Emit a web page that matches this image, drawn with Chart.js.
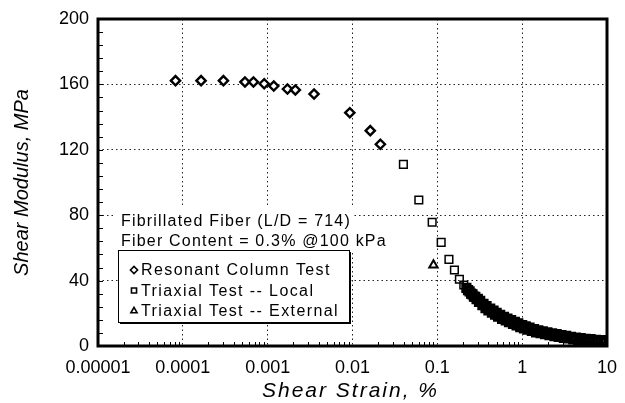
<!DOCTYPE html>
<html>
<head>
<meta charset="utf-8">
<script src="https://cdn.jsdelivr.net/npm/chart.js@4.4.1/dist/chart.umd.min.js"></script>
<style>
  html, body { margin: 0; padding: 0; background: #fff; }
</style>
</head>
<body>
<canvas id="myChart" width="625" height="403"></canvas>
<script>
// Resonant column test points
const strainRC = [0.000082, 0.000164, 0.000301, 0.00054, 0.00068, 0.00091, 0.00118, 0.00171, 0.00212, 0.00352, 0.0093, 0.0162, 0.0213];
const modulusRC = [162.3, 162.3, 162.3, 161.5, 161.5, 160.4, 159.0, 157.2, 156.6, 154.1, 142.7, 131.7, 123.4];

// Triaxial test, local strain measurement
const strainLocal = [0.0398, 0.0605, 0.0869, 0.111, 0.137, 0.159, 0.182, 0.205,
  0.22, 0.23, 0.24, 0.25, 0.26, 0.27, 0.28, 0.29, 0.30, 0.31, 0.32, 0.34, 0.35, 0.37, 0.38,
  0.40, 0.42, 0.44, 0.46, 0.48, 0.50, 0.52, 0.55, 0.58, 0.61, 0.64, 0.67, 0.70, 0.74, 0.78,
  0.82, 0.86, 0.90, 0.95, 1.0, 1.05, 1.1, 1.16, 1.22, 1.3, 1.38, 1.46, 1.55, 1.65, 1.75,
  1.86, 1.98, 2.1, 2.25, 2.4, 2.55, 2.7, 2.9, 3.1, 3.3, 3.5, 3.75, 4.0, 4.3, 4.6, 4.9,
  5.2, 5.6, 6.0, 6.4, 6.9, 7.4, 7.9, 8.5, 9.1, 9.7];
const modulusLocal = [111.1, 89.3, 75.7, 63.4, 53.0, 46.5, 40.8, 37.3,
  35.5, 34.2, 33.4, 32.0, 31.6, 30.2, 30.0, 28.6, 28.8, 27.0, 27.6, 25.0, 25.8, 23.2, 24.4,
  21.8, 22.8, 20.4, 21.6, 19.2, 20.2, 18.0, 19.0, 16.6, 17.8, 15.6, 16.8, 14.6, 15.8, 13.6,
  14.8, 12.6, 13.8, 11.6, 12.8, 10.8, 12.0, 10.0, 11.2, 9.2, 10.4, 8.4, 9.6, 7.8, 9.0,
  7.2, 8.4, 6.6, 7.8, 6.0, 7.2, 5.6, 6.6, 5.0, 6.2, 4.6, 5.6, 4.0, 5.2, 3.6, 4.8,
  3.2, 4.4, 2.8, 4.2, 2.6, 3.8, 2.4, 3.6, 2.2, 3.4];

// Triaxial test, external strain measurement
const strainExt = [0.09];
const modulusExt = [49.5];

const xTicks = [0.00001, 0.0001, 0.001, 0.01, 0.1, 1, 10];
const xTickLabels = ['0.00001', '0.0001', '0.001', '0.01', '0.1', '1', '10'];
const yTickLabels = ['0', '40', '80', '120', '160', '200'];
const xTitle = 'Shear Strain, %';
const yTitle = 'Shear Modulus, MPa';
const noteLines = ['Fibrillated Fiber (L/D = 714)', 'Fiber Content = 0.3% @100 kPa'];

const FONT = '"Liberation Sans", Arial, Helvetica, sans-serif';

function toPoints(xs, ys) {
  return xs.map(function(x, i) { return { x: x, y: ys[i] }; });
}

// Frame, inside minor ticks, spaced x title, the note and the boxed legend
const decorations = {
  id: 'decorations',
  afterDraw(chart) {
    const ctx = chart.ctx;
    const area = chart.chartArea;
    const xs = chart.scales.x;
    const ys = chart.scales.y;
    ctx.save();
    ctx.strokeStyle = '#000';

    // minor ticks on the strain axis
    ctx.lineWidth = 1;
    ctx.beginPath();
    for (let d = 0.00001; d < 10; d *= 10) {
      for (let k = 2; k <= 9; k++) {
        const px = Math.round(xs.getPixelForValue(k * d)) + 0.5;
        ctx.moveTo(px, area.bottom);
        ctx.lineTo(px, area.bottom - 4);
      }
    }
    // minor ticks on the modulus axis
    for (let v = 8; v < 200; v += 8) {
      const py = Math.round(ys.getPixelForValue(v)) + 0.5;
      ctx.moveTo(area.left, py);
      ctx.lineTo(area.left + 5, py);
    }
    ctx.stroke();

    // heavy frame
    ctx.lineWidth = 3;
    ctx.strokeRect(area.left, area.top, area.right - area.left, area.bottom - area.top);

    // x axis title, letter spaced
    ctx.fillStyle = '#000';
    ctx.font = 'italic 21px ' + FONT;
    ctx.letterSpacing = '2px';
    ctx.textAlign = 'center';
    ctx.textBaseline = 'middle';
    ctx.fillText(xTitle, (area.left + area.right) / 2 - 2, 391);

    // note above the legend
    ctx.fillStyle = '#fff';
    ctx.fillRect(116, 208, 238, 42);
    ctx.fillStyle = '#000';
    ctx.font = '16px ' + FONT;
    ctx.letterSpacing = '1.2px';
    ctx.textAlign = 'left';
    ctx.fillText(noteLines[0], 121, 222);
    ctx.fillText(noteLines[1], 121, 242);

    // legend box with a shadow on the bottom and right
    const bx = 118, by = 250, bw = 231, bh = 72;
    ctx.fillStyle = '#000';
    ctx.fillRect(bx + 2, by + 2, bw, bh);
    ctx.fillStyle = '#fff';
    ctx.fillRect(bx, by, bw, bh);
    ctx.lineWidth = 1;
    ctx.strokeRect(bx + 0.5, by + 0.5, bw, bh);

    ctx.letterSpacing = '1.4px';
    chart.data.datasets.forEach(function(ds, i) {
      const cy = 270 + i * 20.5;
      ctx.save();
      ctx.strokeStyle = '#000';
      ctx.fillStyle = '#fff';
      ctx.lineWidth = 1.6;
      Chart.helpers.drawPoint(ctx, { pointStyle: ds.pointStyle, rotation: 0, radius: 3.6, borderWidth: 1.6 }, 134, cy);
      ctx.restore();
      ctx.fillStyle = '#000';
      ctx.fillText(ds.label, 141, cy + 1);
    });
    ctx.restore();
  }
};

const ctx = document.getElementById('myChart').getContext('2d');
new Chart(ctx, {
  type: 'scatter',
  data: {
    datasets: [{
      label: 'Resonant Column Test',
      data: toPoints(strainRC, modulusRC),
      pointStyle: 'rectRot',
      pointRadius: 4.6,
      borderWidth: 2.4,
      borderColor: '#000',
      backgroundColor: '#fff'
    }, {
      label: 'Triaxial Test -- Local',
      data: toPoints(strainLocal, modulusLocal),
      pointStyle: 'rect',
      pointRadius: 5.4,
      // the tightly packed points past 0.2 % merge into a solid band
      borderWidth: function(c) { return c.dataIndex >= 8 ? 2.6 : 1.5; },
      borderColor: '#000',
      backgroundColor: 'rgba(255,255,255,0)'
    }, {
      label: 'Triaxial Test -- External',
      data: toPoints(strainExt, modulusExt),
      pointStyle: 'triangle',
      pointRadius: 4.8,
      borderWidth: 2,
      borderColor: '#000',
      backgroundColor: '#fff'
    }]
  },
  options: {
    responsive: false,
    animation: false,
    layout: { padding: { top: 19, right: 18, left: 0, bottom: 0 } },
    plugins: {
      legend: { display: false },
      tooltip: { enabled: false }
    },
    scales: {
      x: {
        type: 'logarithmic',
        position: 'bottom',
        min: 0.00001,
        max: 10,
        afterBuildTicks: function(scale) {
          scale.ticks = xTicks.map(function(v) { return { value: v }; });
        },
        afterFit: function(scale) {
          scale.height = 57;
          scale.paddingLeft = 0;
          scale.paddingRight = 0;
        },
        ticks: {
          autoSkip: false,
          maxRotation: 0,
          padding: 11,
          color: '#000',
          font: { family: FONT, size: 18 },
          callback: function(value, index) { return xTickLabels[index]; }
        },
        grid: {
          drawTicks: false,
          lineWidth: 1,
          color: function(c) {
            return (c.index > 0 && c.index < xTicks.length - 1) ? '#222' : 'rgba(0,0,0,0)';
          }
        },
        border: { display: false, dash: [1.5, 3] },
        title: { display: false }
      },
      y: {
        min: 0,
        max: 200,
        afterFit: function(scale) {
          scale.width = 98;
          scale.paddingTop = 0;
          scale.paddingBottom = 0;
        },
        ticks: {
          stepSize: 40,
          padding: 9,
          color: '#000',
          font: { family: FONT, size: 18 },
          callback: function(value, index) { return yTickLabels[index]; }
        },
        grid: {
          drawTicks: false,
          lineWidth: 1,
          color: function(c) {
            return (c.tick && c.tick.value > 0 && c.tick.value < 200) ? '#222' : 'rgba(0,0,0,0)';
          }
        },
        border: { display: false, dash: [1.5, 3] },
        title: {
          display: true,
          text: yTitle,
          color: '#000',
          font: { family: FONT, size: 20, style: 'italic' },
          padding: { top: 10, bottom: 0 }
        }
      }
    }
  },
  plugins: [decorations]
});
</script>
</body>
</html>
